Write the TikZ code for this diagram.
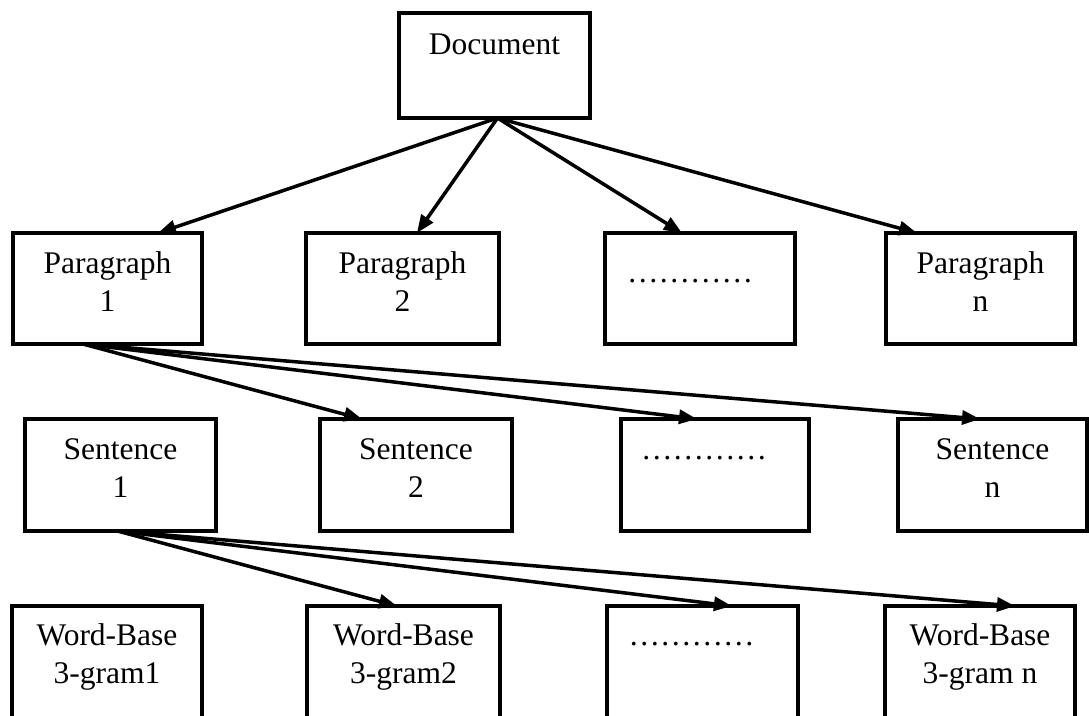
\documentclass[tikz,border=0pt]{standalone}
\usepackage{fontspec}
\setmainfont{Liberation Serif}
\usetikzlibrary{arrows.meta,calc}
\begin{document}
\begin{tikzpicture}[x=1pt,y=-1pt,
  box/.style={draw=black, line width=3.8pt, inner sep=0pt, outer sep=0pt},
  lbl/.style={font=\fontsize{31.5}{38}\selectfont, align=center, inner sep=0pt, anchor=north},
  dotlbl/.style={font=\fontsize{31.5}{38}\selectfont, inner sep=0pt, anchor=base},
  link/.style={draw=black, line width=3.5pt, -{Triangle[length=18pt,width=14pt]}}]
\useasboundingbox (0,0) rectangle (1089,715);
\clip (0,0) rectangle (1089,715);

% top level
\node[box, minimum width=191pt, minimum height=105pt] (doc) at (494.5,65.5) {};
\node[lbl] (doct) at ($(doc.north)+(0,20.5)$) {Document};

% paragraph level
\node[box, minimum width=189pt, minimum height=111pt] (p1) at (107.5,288.5) {};
\node[box, minimum width=193pt, minimum height=111pt] (p2) at (402.5,288.5) {};
\node[box, minimum width=190pt, minimum height=111pt] (pd) at (700,288.5) {};
\node[box, minimum width=189pt, minimum height=111pt] (pn) at (980.5,288.5) {};
\node[lbl] (p1t) at ($(p1.north)+(0,18.5)$) {Paragraph\\1};
\node[lbl] (p2t) at ($(p2.north)+(0,18.5)$) {Paragraph\\2};
\node[dotlbl] (pdt) at ($(pd.north)+(-10,49)$) {…………};
\node[lbl] (pnt) at ($(pn.north)+(0,18.5)$) {Paragraph\\n};

% sentence level
\node[box, minimum width=191pt, minimum height=112pt] (s1) at (120.5,475) {};
\node[box, minimum width=192pt, minimum height=112pt] (s2) at (416,475) {};
\node[box, minimum width=188pt, minimum height=112pt] (sd) at (715,475) {};
\node[box, minimum width=189pt, minimum height=112pt] (sn) at (992.5,475) {};
\node[lbl] (s1t) at ($(s1.north)+(0,19.5)$) {Sentence\\1};
\node[lbl] (s2t) at ($(s2.north)+(0,19.5)$) {Sentence\\2};
\node[dotlbl] (sdt) at ($(sd.north)+(-11,40)$) {…………};
\node[lbl] (snt) at ($(sn.north)+(0,19.5)$) {Sentence\\n};

% word-base 3-gram level
\node[box, minimum width=190pt, minimum height=113pt] (w1) at (107,662.5) {};
\node[box, minimum width=193pt, minimum height=113pt] (w2) at (403.5,662.5) {};
\node[box, minimum width=191pt, minimum height=113pt] (wd) at (702.5,662.5) {};
\node[box, minimum width=190pt, minimum height=113pt] (wn) at (980,662.5) {};
\node[lbl] (w1t) at ($(w1.north)+(0,17.5)$) {Word-Base\\3-gram1};
\node[lbl] (w2t) at ($(w2.north)+(0,17.5)$) {Word-Base\\3-gram2};
\node[dotlbl] (wdt) at ($(wd.north)+(-11,39)$) {…………};
\node[lbl] (wnt) at ($(wn.north)+(0,17.5)$) {Word-Base\\3-gram n};

% document -> paragraphs
\coordinate (dsrc) at ($(doc.south)+(3,0)$);
\draw[link] (dsrc) -- ($(p1.north west)!0.767!(p1.north east)$);
\draw[link] (dsrc) -- ($(p2.north west)!0.575!(p2.north east)$);
\draw[link] (dsrc) -- ($(pd.north west)!0.405!(pd.north east)$);
\draw[link] (dsrc) -- ($(pn.north west)!0.164!(pn.north east)$);

% paragraph 1 -> sentences
\coordinate (psrc) at ($(p1.south west)!0.37!(p1.south east)$);
\draw[link] (psrc) -- ($(s2.north west)!0.219!(s2.north east)$);
\draw[link] (psrc) -- ($(sd.north west)!0.404!(sd.north east)$);
\draw[link] (psrc) -- ($(sn.north west)!0.434!(sn.north east)$);

% sentence 1 -> word-base 3-grams
\coordinate (ssrc) at ($(s1.south)+(-3,0)$);
\draw[link] (ssrc) -- ($(w2.north west)!0.466!(w2.north east)$);
\draw[link] (ssrc) -- ($(wd.north west)!0.654!(wd.north east)$);
\draw[link] (ssrc) -- ($(wn.north west)!0.684!(wn.north east)$);
\end{tikzpicture}
\end{document}
